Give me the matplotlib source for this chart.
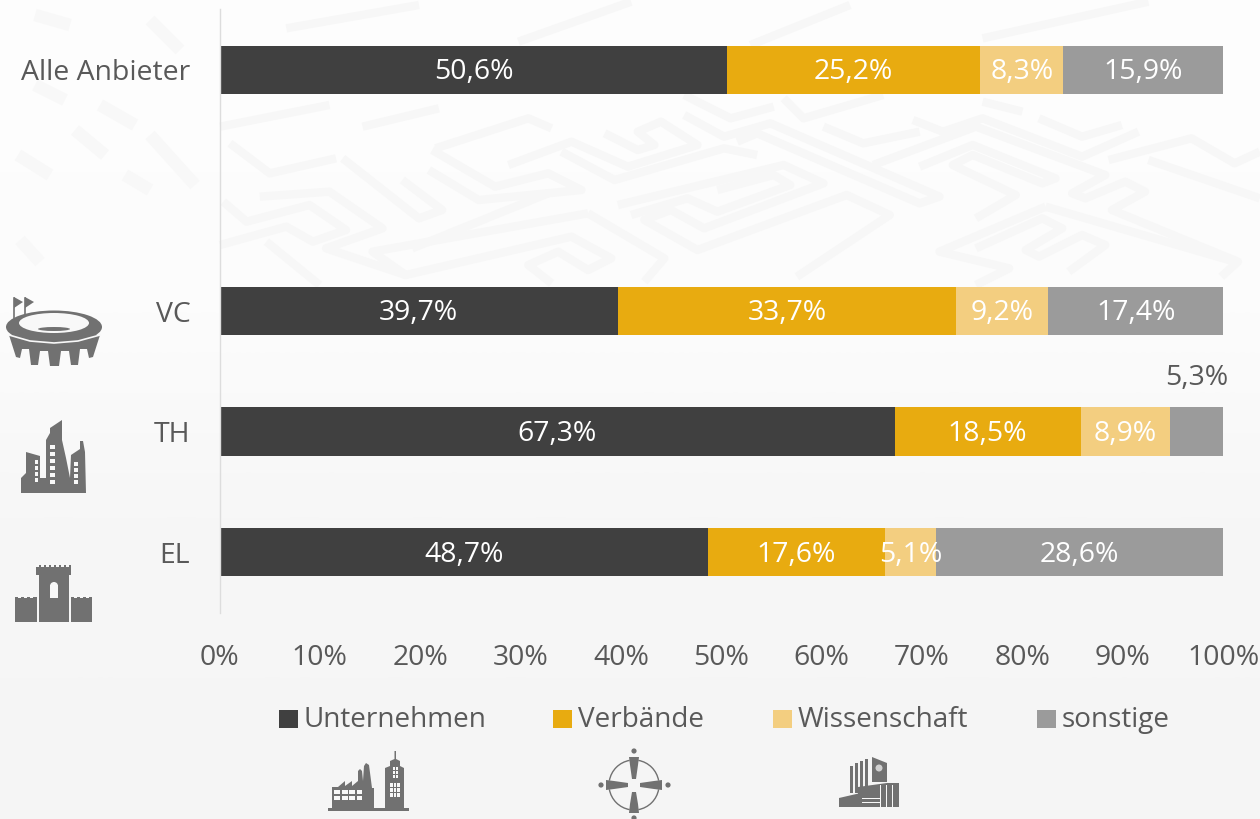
import matplotlib
matplotlib.use('Agg')
import matplotlib.pyplot as plt
from matplotlib.patches import Ellipse, Polygon, Rectangle, Circle, Arc

plt.rcParams['font.family'] = ['Open Sans', 'DejaVu Sans']

categories = ['Alle Anbieter', '', 'VC', 'TH', 'EL']
series_names = ['Unternehmen', 'Verbände', 'Wissenschaft', 'sonstige']
colors = ['#404040', '#E8AB10', '#F3CE80', '#9B9B9B']
unternehmen = [50.6, None, 39.7, 67.3, 48.7]
verbaende = [25.2, None, 33.7, 18.5, 17.6]
wissenschaft = [8.3, None, 9.2, 8.9, 5.1]
sonstige = [15.9, None, 17.4, 5.3, 28.6]
xticks = [0, 10, 20, 30, 40, 50, 60, 70, 80, 90, 100]

W, H = 1260, 819
ICON = '#717171'
TEXT = '#595959'
BG = '#F8F8F8'
FS = 20.4

fig = plt.figure(figsize=(W / 100, H / 100), dpi=100, facecolor=BG)

# backdrop + icons live in one pixel-coordinate axes
bg = fig.add_axes([0, 0, 1, 1], zorder=0)
bg.imshow([[0.99], [0.985], [0.965], [0.96]], extent=(0, W, H, 0), aspect='auto', cmap='gray',
          vmin=0, vmax=1, interpolation='bilinear', zorder=0)
bg.set_xlim(0, W)
bg.set_ylim(H, 0)
bg.axis('off')

# maze channels
maze = [
    [(0, 95), (165, 30)], [(215, 95), (330, 40)], [(15, 145), (75, 235), (175, 190)],
    [(185, 190), (300, 370), (335, 345), (275, 255)],
    [(320, 165), (415, 275), (495, 235), (545, 285), (390, 315), (315, 225)],
    [(325, 160), (465, 70), (500, 100)],
    [(435, 210), (530, 140), (615, 215), (720, 150), (665, 80), (630, 110), (655, 150), (630, 165), (580, 115)],
    [(515, 170), (595, 255), (760, 160), (810, 180)],
    [(780, 140), (810, 115), (1055, 325), (1085, 305), (830, 85), (760, 125), (700, 60)],
    [(600, 330), (850, 210), (910, 265), (730, 400), (680, 345), (640, 375), (720, 465), (945, 300), (1010, 360), (870, 545)],
    [(750, 285), (835, 240), (860, 270), (750, 350), (705, 310), (620, 360)],
    [(555, 355), (670, 490), (640, 560)],
    [(555, 355), (230, 470), (280, 540), (530, 425), (590, 490), (555, 525), (510, 470), (465, 510), (500, 565)],
    [(290, 460), (495, 295)],
    [(985, 210), (1140, 95), (1335, 240), (1285, 295), (1305, 310), (1365, 260), (1395, 290), (1345, 345), (1535, 500), (1510, 545)],
    [(1055, 215), (1135, 150), (1260, 250), (1240, 265), (1135, 180), (1105, 210), (1200, 300), (1140, 370)],
    [(1245, 335), (1085, 470), (1190, 520), (1140, 570)], [(1245, 335), (1530, 500)],
    [(1140, 460), (1240, 370), (1270, 400), (1215, 465), (1235, 485), (1300, 420), (1335, 450), (1280, 530)],
    [(1340, 195), (1465, 130), (1530, 205), (1568, 170)], [(1400, 195), (1568, 310)],
    [(1150, 20), (1210, 50)], [(910, 95), (970, 145), (1055, 110)],
    [(1045, 75), (1090, 110), (1150, 70), (1300, 185), (1385, 110)], [(1235, 70), (1300, 125), (1360, 90)],
    [(850, 10), (880, 70), (1000, 0)], [(700, 0), (770, 70), (835, 35)],
    [(5, 320), (40, 380), (135, 330), (190, 405), (140, 440), (100, 395), (0, 450)],
    [(60, 305), (165, 290), (245, 400), (160, 460), (280, 540)], [(70, 440), (150, 570)],
    # band above the first bar
    [(100, -200), (300, -270)], [(450, -160), (620, -280)], [(800, -150), (950, -270)], [(1150, -170), (1400, -280)],
]
for seg in maze:
    xs = [220 + p[0] / 1.508 for p in seg]
    ys = [95 + p[1] / 3 for p in seg]
    bg.plot(xs, ys, color='#F7F7F7', lw=6, solid_capstyle='butt', solid_joinstyle='round', zorder=1)
# soft blocks at the left, beside the category labels
left_blocks = [[(35, 15), (70, 25)], [(35, 85), (65, 100)], [(100, 105), (135, 125)], [(18, 155), (50, 175)],
               [(75, 130), (105, 155)], [(150, 135), (195, 185)], [(20, 240), (40, 262)], [(125, 175), (150, 190)],
               [(150, 20), (180, 50)]]
for (x0, y0), (x1, y1) in left_blocks:
    bg.plot([x0, x1], [y0, y1], color='#F8F8F8', lw=9, solid_capstyle='butt', zorder=1)


def add(p):
    p.set_zorder(3)
    bg.add_patch(p)


def poly(pts, color=ICON):
    add(Polygon(pts, closed=True, facecolor=color, edgecolor='none'))


def rect(x, y, w, h, color=ICON):
    add(Rectangle((x, y), w, h, facecolor=color, edgecolor='none'))


# stadium
for fx in (14, 25):
    bg.plot([fx, fx], [298, 320], color=ICON, lw=1.2, zorder=3)
    poly([(fx, 297), (fx + 9, 302), (fx, 308)])
poly([(9, 335), (100, 335), (93, 357), (89, 358), (87, 349), (80, 349), (78, 365), (71, 365), (69, 351),
      (61, 351), (59, 366), (50, 366), (48, 351), (40, 351), (38, 365), (31, 365), (29, 349), (22, 349),
      (20, 358), (16, 357)])
add(Ellipse((54, 327), 96, 33, facecolor=ICON, edgecolor='none'))
bg.plot([9, 30, 54, 78, 100], [335, 341, 343, 341, 335], color=BG, lw=1.2, zorder=3.1)
add(Ellipse((54, 323), 70, 20, facecolor=BG, edgecolor='none'))
add(Ellipse((54, 329), 32, 4, facecolor=ICON, edgecolor='none'))

# city
poly([(21, 493), (21, 478), (26, 473), (26, 452), (40, 456), (40, 478), (46, 478), (46, 440), (50, 433),
      (50, 428), (62, 420), (62, 440), (66, 458), (70, 478), (71, 455), (80, 449), (80, 441), (83, 441),
      (85, 452), (86, 493)])
for y in (445, 452, 459, 466, 473, 480):
    rect(50, y, 5, 4, BG)
for y in (460, 466, 472, 478):
    rect(35, y, 3, 3.5, BG)
    rect(74, y + 2, 4, 3.5, BG)

# castle
rect(15, 597, 22, 25)
rect(71, 597, 21, 25)
rect(39, 565, 30, 57)
rect(36, 565, 35, 10)
for x in (36, 41, 46, 51, 56, 61, 66):
    rect(x, 564, 3, 3, BG)
for x in (18, 24, 30, 74, 80, 86):
    rect(x, 595, 3, 3, BG)
rect(50, 585, 8, 13, BG)
add(Circle((54, 586), 4, facecolor=BG, edgecolor='none'))

# factory and tower
rect(328, 808, 81, 2.5)
poly([(332, 808), (332, 787), (338, 787), (345, 781), (345, 786), (352, 781), (352, 786), (358, 781),
      (358, 771), (360, 769), (362, 771), (363, 781), (364, 766), (366, 763), (369, 765), (372, 788),
      (374, 788), (374, 808)])
for x in (334, 342, 349, 356.5):
    rect(x, 790, 5.5, 4, BG)
    rect(x, 796, 5.5, 4, BG)
poly([(385, 808), (385, 768), (390, 766), (390, 761), (394.5, 759), (394.5, 751), (396, 751), (396, 759),
      (400, 761), (400, 766), (404, 768), (404, 808)])
for x in (392.5, 395.7):
    for y in (767, 770.5, 774.5):
        rect(x, y, 2.7, 3, BG)
for x in (390, 393.5, 397):
    for y in (783, 788, 793):
        rect(x, y, 2.8, 4, BG)

# people in a circle
cx, cy = 634, 785
for a in (10, 100, 190, 280):
    add(Arc((cx, cy), 50, 50, theta1=a, theta2=a + 70, edgecolor=ICON, lw=1))
for px, py in [(0, -34), (0, 33), (-33, 0), (34, 0)]:
    add(Circle((cx + px, cy + py), 2.6, facecolor=ICON, edgecolor='none'))
poly([(cx - 5, 757), (cx + 5, 757), (cx + 4, 765), (cx + 2, 779), (cx - 2, 779), (cx - 4, 765)])
poly([(cx - 5, 813), (cx + 5, 813), (cx + 4, 804), (cx + 2, 792), (cx - 2, 792), (cx - 4, 804)])
poly([(cx - 28, cy - 5), (cx - 28, cy + 5), (cx - 20, cy + 4), (cx - 6, cy + 2), (cx - 6, cy - 2), (cx - 20, cy - 4)])
poly([(cx + 28, cy - 5), (cx + 28, cy + 5), (cx + 20, cy + 4), (cx + 6, cy + 2), (cx + 6, cy - 2), (cx + 20, cy - 4)])

# office block
for x, top in [(850, 766), (855, 763), (860, 761), (865, 758.5)]:
    rect(x, top, 3.4, 793 - top)
poly([(872, 757), (887, 763), (887, 782), (872, 782)])
add(Circle((879, 768), 3.5, facecolor='#D0D0D0', edgecolor='none'))
poly([(858, 787), (887, 783), (899, 783), (899, 807), (865, 807), (865, 797), (858, 797)])
poly([(839, 798), (865, 792), (880, 792), (880, 807), (839, 807)])
for x in (880, 886, 892):
    rect(x, 785, 1.3, 22, BG)
for y in (798, 802):
    rect(862, y, 18, 1.3, BG)

# chart axes: 0-100 % spans px 220..1223, five category slots span px 9.5..612.5
ax = fig.add_axes([219.5 / W, 1 - 612.5 / H, 1003.5 / W, 603 / H], zorder=2)
ax.patch.set_alpha(0)
ypos = range(len(categories))
rows = [unternehmen, verbaende, wissenschaft, sonstige]
left = [0.0] * len(categories)
for name, vals, col in zip(series_names, rows, colors):
    for y in ypos:
        v = vals[y]
        if v is None:
            continue
        ax.barh(y, v, left=left[y], height=0.4, color=col, lw=0)
        label = f'{v:.1f}%'.replace('.', ',')
        if name == 'sonstige' and v < 6:
            ax.text(left[y] + v / 2, y - 0.445, label, ha='center', va='center', color=TEXT, fontsize=FS)
        else:
            ax.text(left[y] + v / 2, y + 0.02, label, ha='center', va='center', color='white', fontsize=FS)
        left[y] += v

ax.set_xlim(0, 100)
ax.set_ylim(4.5, -0.5)
ax.set_xticks(xticks, [f'{t}%' for t in xticks])
ax.set_yticks(list(ypos), categories)
ax.tick_params(length=0, labelsize=FS, labelcolor=TEXT)
ax.tick_params(axis='x', pad=22.5)
ax.tick_params(axis='y', pad=21)
for lab in ax.get_yticklabels():
    lab.set_y(lab.get_position()[1])
for s in ('top', 'right', 'bottom'):
    ax.spines[s].set_visible(False)
ax.spines['left'].set_color('#DDDDDD')
ax.spines['left'].set_linewidth(1)

# legend entries
legend_x = [279, 553, 773, 1037]
for name, col, x in zip(series_names, colors, legend_x):
    rect(x, 710, 19, 18, col)
    bg.text(x + 25, 720, name, fontsize=20.1, color=TEXT, va='center', ha='left', zorder=3)

fig.savefig('out.png', dpi=100, facecolor=fig.get_facecolor())
